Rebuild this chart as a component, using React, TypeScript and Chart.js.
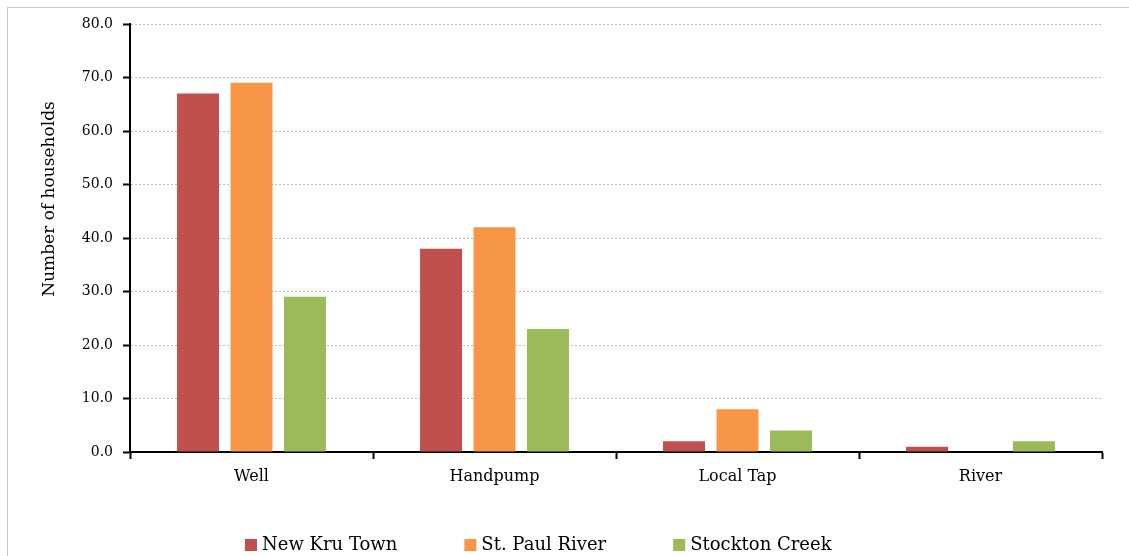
import { useEffect, useRef } from "react";
import { Chart, registerables } from "chart.js";

Chart.register(...registerables);

// Water sources by community (number of households)
const categories = ["Well", "Handpump", "Local Tap", "River"];
const seriesNames = ["New Kru Town", "St. Paul River", "Stockton Creek"];
const newKruTown = [67, 38, 2, 1];
const stPaulRiver = [69, 42, 8, 0];
const stocktonCreek = [29, 23, 4, 2];
const seriesColors = ["#C0504D", "#F79646", "#9BBB59"];
const yAxisTitle = "Number of households";
const yMin = 0;
const yMax = 80;
const yStep = 10;

const FONT = "'DejaVu Serif', 'Liberation Serif', serif";

// Rotated y-axis title, placed a little above the axis centre
const axisTitlePlugin = {
  id: "axisTitle",
  afterDraw(chart: any) {
    const { ctx, chartArea } = chart;
    ctx.save();
    ctx.translate(chartArea.left - 80, chartArea.top + 175);
    ctx.rotate(-Math.PI / 2);
    ctx.font = `17px ${FONT}`;
    ctx.fillStyle = "#000";
    ctx.textAlign = "center";
    ctx.textBaseline = "middle";
    ctx.fillText(yAxisTitle, 0, 0);
    ctx.restore();
  },
};

// Bottom legend with square swatches
const bottomLegendPlugin = {
  id: "bottomLegend",
  afterDraw(chart: any) {
    const { ctx, chartArea } = chart;
    ctx.save();
    ctx.font = `18px ${FONT}`;
    ctx.textAlign = "left";
    ctx.textBaseline = "middle";
    let x = chartArea.left + 115;
    const y = chartArea.bottom + 93;
    chart.data.datasets.forEach((ds: any) => {
      ctx.fillStyle = ds.backgroundColor;
      ctx.fillRect(x, y - 6, 12, 12);
      ctx.fillStyle = "#000";
      ctx.fillText(ds.label, x + 17, y);
      x += 17 + ctx.measureText(ds.label).width + 67;
    });
    ctx.restore();
  },
};

export default function App() {
  const canvasRef = useRef<HTMLCanvasElement | null>(null);

  useEffect(() => {
    if (!canvasRef.current) return;
    const seriesValues = [newKruTown, stPaulRiver, stocktonCreek];
    const chart = new Chart(canvasRef.current, {
      type: "bar",
      data: {
        labels: categories,
        datasets: seriesNames.map((name, i) => ({
          label: name,
          data: seriesValues[i],
          backgroundColor: seriesColors[i],
          borderWidth: 0,
          barPercentage: 0.785,
          categoryPercentage: 0.66,
        })),
      },
      options: {
        animation: false,
        responsive: true,
        maintainAspectRatio: false,
        layout: { padding: { top: 24, right: 27, bottom: 54, left: 0 } },
        plugins: {
          legend: { display: false },
          tooltip: { enabled: false },
        },
        scales: {
          x: {
            grid: {
              drawOnChartArea: false,
              offset: true,
              tickLength: 7,
              tickColor: "#000",
              tickWidth: 2,
            },
            border: { color: "#000", width: 2 },
            ticks: { font: { family: FONT, size: 16 }, color: "#000", padding: 8 },
            afterFit: (s: any) => {
              s.height = 50;
            },
          },
          y: {
            min: yMin,
            max: yMax,
            ticks: {
              stepSize: yStep,
              callback: (v: any) => Number(v).toFixed(1),
              font: { family: FONT, size: 14 },
              color: "#000",
              padding: 10,
            },
            grid: {
              color: "#bdbdbd",
              lineWidth: 1,
              tickLength: 7,
              tickColor: "#000",
              tickWidth: 2,
              tickBorderDash: [],
            },
            border: { color: "#000", width: 2, dash: [2, 2] },
            afterFit: (s: any) => {
              s.width = 130;
            },
          },
        },
      },
      plugins: [axisTitlePlugin, bottomLegendPlugin],
    });
    return () => chart.destroy();
  }, []);

  return (
    <div style={{ position: "fixed", inset: 0, overflow: "hidden", background: "#fff" }}>
      <div
        style={{
          position: "absolute",
          left: 7,
          top: 7,
          width: 1400,
          height: 800,
          borderTop: "1px solid #c8c8c8",
          borderLeft: "1px solid #c8c8c8",
        }}
      />
      <div style={{ position: "absolute", left: 0, top: 0, width: 1129, height: 556 }}>
        <canvas ref={canvasRef} />
      </div>
    </div>
  );
}
